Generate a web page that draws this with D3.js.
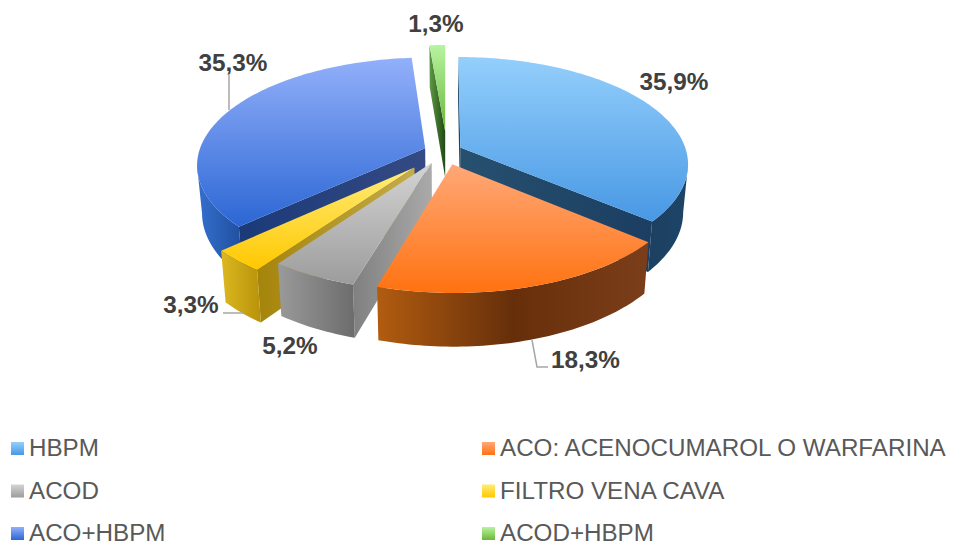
<!DOCTYPE html>
<html><head><meta charset="utf-8">
<script src="https://cdnjs.cloudflare.com/ajax/libs/d3/7.8.5/d3.min.js"></script>
<style>html,body{margin:0;padding:0;background:#fff}svg{display:block}text{font-family:"Liberation Sans",Arial,sans-serif}</style>
</head><body><svg id="c" width="955" height="545"></svg>
<script>
const categories=["HBPM","ACO: ACENOCUMAROL O WARFARINA","ACOD","FILTRO VENA CAVA","ACO+HBPM","ACOD+HBPM"];
const values=[35.9,18.3,5.2,3.3,35.3,1.3];
const valueLabels=["35,9%","18,3%","5,2%","3,3%","35,3%","1,3%"];

// presentation settings (one row per category)
const explodeX=[0.068,0.032,-0.058,-0.132,-0.088,0.001];
const explodeZ=[-0.034,0.124,0.109,0.153,-0.027,-0.19];
const topColors=[["#94cffc","#4898e4"],["#ffa878","#ff7210"],["#d4d4d4","#9c9c9c"],["#ffec78","#ffc800"],["#92b0fa","#2c66d4"],["#b6f4a0","#6cb63a"]];
const arcColors=[["#1c4060","#1d4468"],["#b25c10","#662f0a","#7c3e1a"],["#9a9a9a","#6c6c6c"],["#dcb820","#b8920a"],["#3570ce","#1f4e9e"],["#3a6a24","#3a6a24"]];
const radialColors=[["#27506f","#1b3e62"],["#5a2a0a","#5a2a0a"],["#808080","#aaaaaa"],["#a5840a","#c4ac4a"],["#1a3a78","#354a84"],["#5f9a44","#1f4a14"]];
const drawOrder=[5,4,0,3,2,1];
const labelX=[674,585.5,290,191,233,436], labelY=[90,368,354,313,71,32];
const leaders=[null,[[532,340],[537,367],[548,367]],null,[[223,313],[243,313]],[[229,75],[229,110]],null];

const W=955,H=545,Cx=445,Cy=151,Rx=226,Ry=105,P=0.15,Depth=47,K=0.98;
const sx=d3.scaleLinear().domain([-1,1]).range([Cx-Rx,Cx+Rx]);
const sy=d3.scaleLinear().domain([-1,1]).range([Cy-Ry,Cy+Ry]);
// project a world point on the plate (x right, z toward viewer); bottom=1 gives the lower face
function proj(x,z,bottom){
  const w=1-P*z,k=bottom?K:1;
  const px=Cx+(sx(x/w)-Cx)*k;
  const py=Cy+(sy(z/w)-Cy)*k+(bottom?Depth/w:0);
  return [px,py];
}
const svg=d3.select("#c");
const defs=svg.append("defs");
const line=d3.line();
const poly=pts=>line(pts)+"Z";
function grad(id,cols,vertical){
  const g=defs.append("linearGradient").attr("id",id).attr("x1",0).attr("y1",0)
    .attr("x2",vertical?0:1).attr("y2",vertical?1:0);
  cols.forEach((c,i)=>g.append("stop").attr("offset",i/(cols.length-1)).attr("stop-color",c));
  return `url(#${id})`;
}
const arcs=d3.pie().sort(null)(values);
drawOrder.forEach(i=>{
  const a=arcs[i],ex=explodeX[i],ez=explodeZ[i];
  const pt=(th,r)=>[ex+r*Math.sin(th),ez-r*Math.cos(th)];
  const n=Math.max(4,Math.ceil((a.endAngle-a.startAngle)/0.02));
  const ths=d3.range(n+1).map(j=>a.startAngle+(a.endAngle-a.startAngle)*j/n);
  const top=ths.map(t=>proj(...pt(t,1),0)), bot=ths.map(t=>proj(...pt(t,1),1));
  const apT=proj(...pt(0,0),0), apB=proj(...pt(0,0),1);
  const g=svg.append("g");
  const rad=grad("r"+i,radialColors[i],false);
  // radial side walls visible to the viewer
  if(top[0][0]<apT[0]-0.01) g.append("path").attr("d",poly([apT,top[0],bot[0],apB])).attr("fill",rad);
  if(apT[0]<top[n][0]-0.01) g.append("path").attr("d",poly([top[n],apT,apB,bot[n]])).attr("fill",rad);
  // outer curved wall, only where it faces the viewer
  let vis=[];
  for(let j=0;j<n;j++) if(top[j+1][0]<top[j][0]) vis.push(j,j+1);
  if(vis.length){
    const lo=d3.min(vis),hi=d3.max(vis);
    const t=top.slice(lo,hi+1),b=bot.slice(lo,hi+1).reverse();
    g.append("path").attr("d",poly(t.concat(b))).attr("fill",grad("a"+i,arcColors[i],false));
  }
  g.append("path").attr("d",poly([apT].concat(top))).attr("fill",grad("t"+i,topColors[i],true));
});
// leader lines
const lk=d3.line();
leaders.forEach(l=>{ if(l) svg.append("path").attr("d",lk(l)).attr("fill","none").attr("stroke","#a6a6a6").attr("stroke-width",1.5); });
// value labels
valueLabels.forEach((t,i)=>svg.append("text").attr("x",labelX[i]).attr("y",labelY[i]).attr("text-anchor","middle")
  .attr("font-size",24.3).attr("font-weight","bold").attr("fill","#404040").text(t));
// legend
const legX=d3.scalePoint().domain([0,1]).range([11,482]);
const legY=d3.scalePoint().domain([0,1,2]).range([442,527]);
categories.forEach((c,i)=>{
  const x=legX(i%2),y=legY(Math.floor(i/2));
  svg.append("rect").attr("x",x).attr("y",y).attr("width",13).attr("height",13).attr("fill",grad("l"+i,topColors[i],true));
  svg.append("text").attr("x",x+18).attr("y",y+14).attr("font-size",24.2).attr("fill","#595959").text(c);
});
</script></body></html>
